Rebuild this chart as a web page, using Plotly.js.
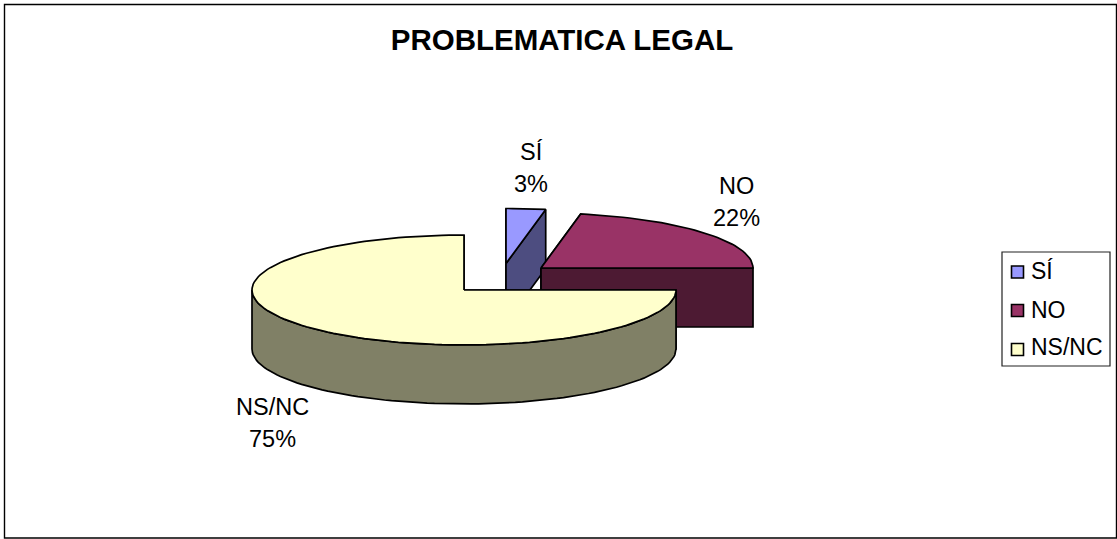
<!DOCTYPE html>
<html>
<head>
<meta charset="utf-8">
<script src="https://cdn.plot.ly/plotly-3.0.1.min.js"></script>
<style>html,body{margin:0;padding:0;background:#fff}#chart{width:1117px;height:539px}</style>
</head>
<body>
<div id="chart"></div>
<script>
// Data
const categories = ["SÍ", "NO", "NS/NC"];
const percentages = [3, 22, 75];

// Style
const topColors = ["#9999FF", "#993366", "#FFFFCC"];
const sideColors = ["#4D4D80", "#4D1A33", "#808066"];

// Pie geometry (in axis units, which equal page pixels)
const centersX = [506, 541, 464];
const centersY = [263.5, 268, 290];
const radiusX = 212, radiusY = 55, depth = 59;
const labelCentersX = [531, 736, 272];
const labelNameY = [152, 186, 407];
const labelPctY = [184, 218, 439];

// Legend placement
const legendSwatchX = 1017.5;
const legendTextX = 1031;
const legendSwatchY = [272, 310.5, 349.5];
const legendTextY = [271, 310, 347];

const FONT = "Liberation Sans, Arial, sans-serif";
const rad = d => d * Math.PI / 180;
const total = percentages.reduce((a, b) => a + b, 0);

function arc(i, from, to, drop) {
  const xs = [], ys = [];
  const steps = Math.max(1, Math.ceil(Math.abs(to - from) / 2));
  for (let s = 0; s <= steps; s++) {
    const a = rad(from + (to - from) * s / steps);
    xs.push(centersX[i] + radiusX * Math.sin(a));
    ys.push(centersY[i] - radiusY * Math.cos(a) + drop);
  }
  return [xs, ys];
}
function poly(xs, ys, color) {
  return {
    type: "scatter", mode: "lines", x: xs, y: ys, fill: "toself", fillcolor: color,
    line: {color: "#000", width: 1.7, shape: "linear"}, showlegend: false, hoverinfo: "skip"
  };
}
function wall(i, angle) {
  const [ex, ey] = arc(i, angle, angle, 0);
  const cx = centersX[i], cy = centersY[i];
  return poly([cx, ex[0], ex[0], cx, cx], [cy, ey[0], ey[0] + depth, cy + depth, cy], sideColors[i]);
}

const traces = [];
let acc = 0;
percentages.forEach((v, i) => {
  const a0 = acc / total * 360, a1 = (acc + v) / total * 360;
  acc += v;
  traces.push(wall(i, a0));
  traces.push(wall(i, a1));
  const f0 = Math.max(a0, 90), f1 = Math.min(a1, 270);
  if (f1 > f0) {
    const [tx, ty] = arc(i, f0, f1, 0);
    const [bx, by] = arc(i, f1, f0, depth);
    traces.push(poly(tx.concat(bx, [tx[0]]), ty.concat(by, [ty[0]]), sideColors[i]));
  }
  const [ax, ay] = arc(i, a0, a1, 0);
  traces.push(poly([centersX[i]].concat(ax, [centersX[i]]), [centersY[i]].concat(ay, [centersY[i]]), topColors[i]));
});
// Legend swatches
categories.forEach((c, i) => {
  traces.push({
    type: "scatter", mode: "markers", x: [legendSwatchX], y: [legendSwatchY[i]], name: c,
    marker: {symbol: "square", size: 12, color: topColors[i], line: {color: "#000", width: 1.6}},
    showlegend: false, hoverinfo: "skip"
  });
});

const annotations = [];
const textFont = {family: FONT, size: 23.5, color: "#000"};
categories.forEach((c, i) => {
  annotations.push({x: labelCentersX[i], y: labelNameY[i], text: c, showarrow: false, xref: "x", yref: "y",
    xanchor: "center", yanchor: "middle", font: textFont});
  annotations.push({x: labelCentersX[i], y: labelPctY[i], text: percentages[i] + "%", showarrow: false, xref: "x", yref: "y",
    xanchor: "center", yanchor: "middle", font: textFont});
  annotations.push({x: legendTextX, y: legendTextY[i], text: c, showarrow: false, xref: "x", yref: "y",
    xanchor: "left", yanchor: "middle", font: {family: FONT, size: 23, color: "#000"}, borderpad: 0, borderwidth: 0});
});

const layout = {
  width: 1117, height: 539,
  margin: {l: 0, r: 0, t: 0, b: 0, pad: 0},
  paper_bgcolor: "#fff", plot_bgcolor: "#fff",
  title: {text: "PROBLEMATICA LEGAL", x: 562 / 1117, y: 1 - 40 / 539, xref: "paper", yref: "paper",
    xanchor: "center", yanchor: "middle", font: {family: FONT, size: 29.5, color: "#000", weight: 700}},
  xaxis: {range: [0, 1117], visible: false, fixedrange: true},
  yaxis: {range: [539, 0], visible: false, fixedrange: true},
  showlegend: false,
  annotations,
  shapes: [
    {type: "rect", xref: "x", yref: "y", x0: 4.5, x1: 1116.5, y0: 4.5, y1: 538, line: {color: "#000", width: 1.4}, layer: "below"},
    {type: "rect", xref: "x", yref: "y", x0: 1002, x1: 1110, y0: 252, y1: 366, line: {color: "#222", width: 1.2}, layer: "below"}
  ]
};
Plotly.newPlot("chart", traces, layout, {displayModeBar: false, responsive: false});
</script>
</body>
</html>
